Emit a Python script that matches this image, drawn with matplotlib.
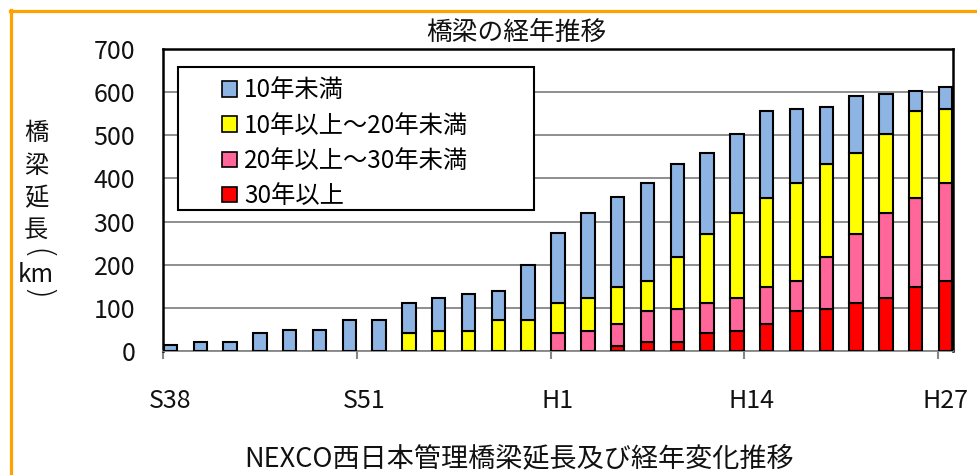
import matplotlib.pyplot as plt
import numpy as np
from matplotlib.patches import Patch, Rectangle
from matplotlib.lines import Line2D

plt.rcParams['font.family'] = ['Noto Sans CJK JP', 'DejaVu Sans']

# survey years, one bar every 2 years (S38 = 1963 ... H27 = 2015)
years = np.arange(1963, 2016, 2)
tick_years = [1963, 1976, 1989, 2002, 2015]
tick_labels = ['S38', 'S51', 'H1', 'H14', 'H27']

# bridge length (km) per age class
under10 = [13, 22, 22, 42, 48, 48, 72, 72, 70, 77, 87, 68, 128, 163, 197, 208,
           227, 217, 188, 183, 202, 172, 132, 132, 93, 46, 52]
y10_20 = [0, 0, 0, 0, 0, 0, 0, 0, 42, 46, 46, 71, 71, 69, 76, 86,
          71, 120, 160, 197, 206, 227, 217, 188, 183, 202, 171]
y20_30 = [0, 0, 0, 0, 0, 0, 0, 0, 0, 0, 0, 0, 0, 42, 46, 50,
          70, 76, 70, 76, 86, 70, 120, 160, 197, 206, 226]
over30 = [0, 0, 0, 0, 0, 0, 0, 0, 0, 0, 0, 0, 0, 0, 0, 12,
          22, 21, 42, 46, 62, 92, 97, 112, 122, 148, 163]

series = [over30, y20_30, y10_20, under10]
labels = ['30年以上', '20年以上～30年未満', '10年以上～20年未満', '10年未満']
colors = ['#FF0000', '#FF6699', '#FFFF00', '#8DB4E2']

W, H = 977, 475
fig = plt.figure(figsize=(W / 100, H / 100), dpi=100)
ax = fig.add_axes([163 / W, 124 / H, 790 / W, 302 / H])

x = years + 0.5
bottom = np.zeros(len(years))
for vals, c in zip(series, colors):
    ax.bar(x, vals, width=0.9, bottom=bottom, color=c, edgecolor='black',
           linewidth=1.5, zorder=3)
    bottom += np.array(vals)

ax.set_xlim(1963, 2016)
ax.set_ylim(0, 700)
ax.set_yticks(range(0, 701, 100))
ax.yaxis.grid(True, color='#868686', linewidth=1.3, zorder=0)
ax.tick_params(axis='y', length=0, pad=20, labelsize=18, labelcolor='#111111')

# ticks at the years, labels centred on the bars
ax.set_xticks(tick_years)
ax.set_xticklabels([])
ax.set_xticks([t + 0.5 for t in tick_years], minor=True)
ax.set_xticklabels(tick_labels, minor=True)
ax.tick_params(axis='x', which='major', length=6, width=1.5, color='#868686')
ax.tick_params(axis='x', which='minor', length=0, pad=27, labelsize=18,
               labelcolor='#111111')

for s in ['left', 'top', 'right']:
    ax.spines[s].set_color('black')
    ax.spines[s].set_linewidth(1.8)
ax.spines['bottom'].set_color('#868686')
ax.spines['bottom'].set_linewidth(1.3)

# legend box
ax.add_patch(Rectangle((0.019, 0.467), 0.45, 0.473, transform=ax.transAxes,
                       facecolor='white', edgecolor='black', linewidth=1.5,
                       zorder=4))
handles = [Patch(facecolor=c, edgecolor='black', linewidth=1.2) for c in colors]
leg = ax.legend(handles[::-1], labels[::-1], loc='upper left',
                bbox_to_anchor=(0.075, 0.906), frameon=False, fontsize=17.5,
                handlelength=0.6, handleheight=0.6, handletextpad=0.3,
                labelspacing=0.38, borderpad=0, borderaxespad=0)
leg.set_zorder(5)

# titles
fig.text(516 / W, 1 - 33 / H, '橋梁の経年推移', ha='center', va='center',
         fontsize=18.5, color='#111111')
fig.text(519 / W, 1 - 460 / H, 'NEXCO西日本管理橋梁延長及び経年変化推移',
         ha='center', va='center', fontsize=19.5, color='#111111')

# vertical y label
for ch, yy in zip(['橋', '梁', '延', '長', 'km'], [133, 166, 198, 230, 275]):
    fig.text(36 / W, 1 - yy / H, ch, ha='center', va='center', fontsize=17.5,
             color='#111111')
for ch, yy in zip(['(', ')'], [255, 295]):
    fig.text(36 / W, 1 - yy / H, ch, ha='center', va='center', fontsize=24,
             rotation=-90, family='DejaVu Sans', fontweight='light',
             color='#111111')

# orange frame around the figure
orange = '#FFA200'
fig.add_artist(Line2D([10 / W, 1], [1 - 11 / H, 1 - 11 / H],
                      transform=fig.transFigure, color=orange, lw=2.3))
fig.add_artist(Line2D([11 / W, 11 / W], [1 - 10 / H, 0],
                      transform=fig.transFigure, color=orange, lw=2.3))

fig.savefig('out.png', dpi=100)
